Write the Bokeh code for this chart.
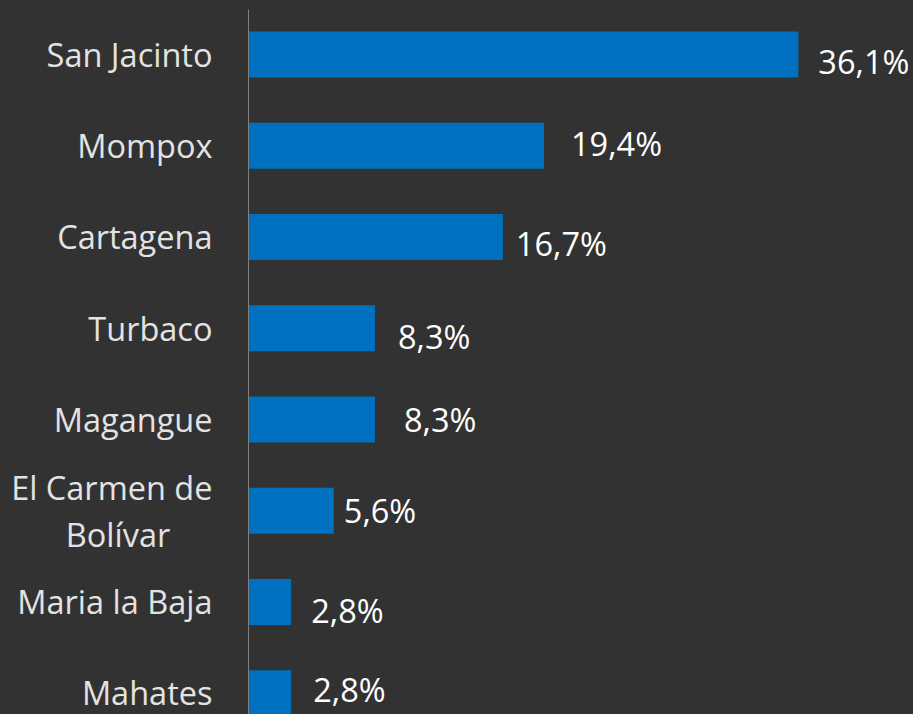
from bokeh.plotting import figure
from bokeh.models import ColumnDataSource, Range1d, FixedTicker
from bokeh.core.properties import value
from bokeh.embed import file_html
from bokeh.resources import INLINE

# ---- data ----
NB = "\u00a0" * 5  # keeps the second line centred under the first
categories = ["San Jacinto", "Mompox", "Cartagena", "Turbaco", "Magangue",
              "El Carmen de\nBolívar" + NB, "Maria la Baja", "Mahates"]
values = [36.1, 19.4, 16.7, 8.3, 8.3, 5.6, 2.8, 2.8]
value_labels = ["36,1%", "19,4%", "16,7%", "8,3%", "8,3%", "5,6%", "2,8%", "2,8%"]

# ---- style: per-label nudges (pixels) ----
label_dx = [20, 27, 13, 23, 29, 10, 20, 22]
label_dy = [7, -2, 7, 8, 0, 0, 9, -4]

BG = "#323232"
BAR = "#0070C0"
FONT = "Open Sans"

pos = list(range(len(categories)))
src = ColumnDataSource(dict(y=pos, v=values, lab=value_labels,
                            dx=label_dx, dy=label_dy))

p = figure(width=913, height=714, output_backend="svg", toolbar_location=None,
           x_range=Range1d(0, 43.66), y_range=Range1d(7.233, -0.493),
           min_border_left=248, min_border_right=0,
           min_border_top=9, min_border_bottom=0)
p.background_fill_color = BG
p.border_fill_color = BG
p.outline_line_color = None
p.xgrid.visible = False
p.ygrid.visible = False
p.xaxis.visible = False

ya = p.yaxis[0]
ya.ticker = FixedTicker(ticks=pos)
ya.major_label_overrides = {i: c for i, c in enumerate(categories)}
ya.major_tick_line_color = None
ya.minor_tick_line_color = None
ya.axis_line_color = "#7F7F7F"
ya.axis_line_width = 1
ya.major_label_standoff = 30
ya.major_label_text_font = FONT
ya.major_label_text_font_size = "32.5px"
ya.major_label_text_color = "#E3E3E3"
ya.major_label_text_line_height = 1.05

p.hbar(y="y", right="v", left=0, height=0.505, source=src,
       fill_color=BAR, line_color=None)

p.text(x="v", y="y", text="lab", source=src, x_offset="dx", y_offset="dy",
       text_font=value(FONT), text_font_size="32.5px", text_color="#FFFFFF",
       text_align="left", text_baseline="alphabetic")

html = file_html(p, INLINE)
html = html.replace("</head>",
                    "<style>html,body{background:%s;}</style></head>" % BG, 1)
open("out.html", "w").write(html)
